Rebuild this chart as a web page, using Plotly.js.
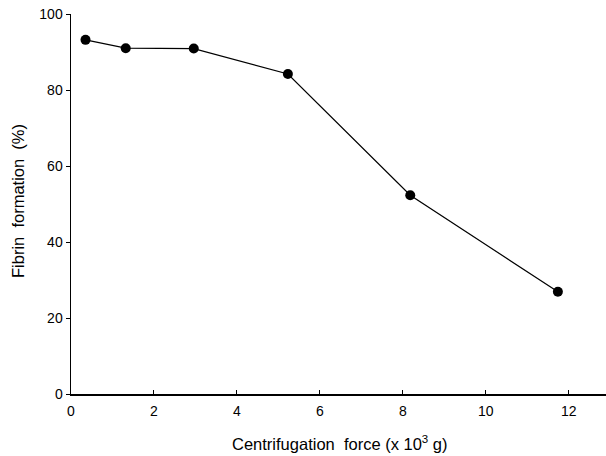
<!DOCTYPE html>
<html>
<head>
<meta charset="utf-8">
<script src="https://cdn.plot.ly/plotly-3.0.1.min.js"></script>
<style>html,body{margin:0;padding:0;background:#fff;}#chart{width:606px;height:456px;}</style>
</head>
<body>
<div id="chart"></div>
<script>
const forceX = [0.35, 1.32, 2.96, 5.23, 8.18, 11.74];
const fibrinPct = [93.2, 91.0, 90.9, 84.2, 52.3, 26.9];
const xTicks = [0, 2, 4, 6, 8, 10, 12];
const yTicks = [0, 20, 40, 60, 80, 100];

const trace = {
  x: forceX, y: fibrinPct, type: 'scatter', mode: 'lines+markers',
  line: {color: '#000', width: 1.2},
  marker: {color: '#000', size: 10},
  cliponaxis: false, showlegend: false
};
const font = {family: 'Liberation Sans, Arial, sans-serif', color: '#000'};
const layout = {
  width: 606, height: 456,
  margin: {l: 70.5, r: 0, t: 14, b: 62},
  paper_bgcolor: '#fff', plot_bgcolor: '#fff',
  xaxis: {
    range: [0, 12.9], tickvals: xTicks, ticktext: xTicks.map(String),
    showgrid: false, zeroline: false, showline: true, linecolor: '#000', linewidth: 1.5,
    ticks: 'inside', ticklen: 4, tickcolor: '#000', ticklabelstandoff: 4,
    tickfont: Object.assign({size: 14}, font)
  },
  yaxis: {
    range: [0, 100], tickvals: yTicks, ticktext: yTicks.map(String),
    showgrid: false, zeroline: false, showline: true, linecolor: '#000', linewidth: 1.5,
    ticks: 'outside', ticklen: 4, tickcolor: '#000',
    tickfont: Object.assign({size: 14}, font)
  },
  annotations: [
    {text: 'Centrifugation  force (x 10<sup>3</sup> g)', xref: 'paper', yref: 'paper',
     x: (340 - 70.5) / 535.5, y: 0, yshift: -49, xanchor: 'center', yanchor: 'middle',
     showarrow: false, font: Object.assign({size: 16.5}, font)},
    {text: 'Fibrin  formation  (%)', xref: 'paper', yref: 'paper',
     x: 0, xshift: -53, y: (394 - 201) / 380, textangle: -90, xanchor: 'center', yanchor: 'middle',
     showarrow: false, font: Object.assign({size: 16.5}, font)}
  ]
};
Plotly.newPlot('chart', [trace], layout, {staticPlot: true, displayModeBar: false});
</script>
</body>
</html>
